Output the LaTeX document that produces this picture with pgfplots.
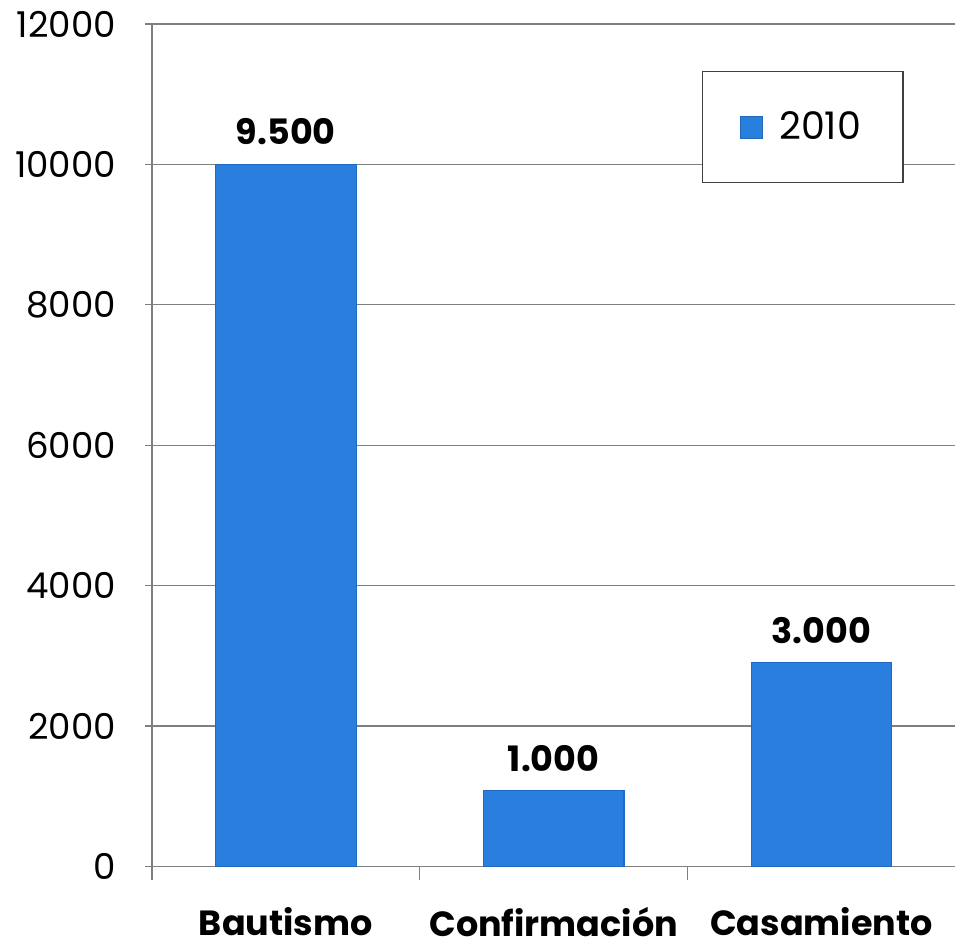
\documentclass[border=0pt]{standalone}
\usepackage{fontspec}
\setmainfont{Poppins}
\usepackage{pgfplots}
\pgfplotsset{compat=1.18}
\definecolor{barblue}{HTML}{2A7EDD}
\definecolor{baredge}{HTML}{1E69C2}
\definecolor{gridgray}{HTML}{7F7F7F}
\begin{document}
\begin{tikzpicture}
\begin{axis}[
  at={(0,0)}, anchor=south west,
  scale only axis,
  width=402pt, height=421.5pt,
  xmin=-0.5, xmax=2.5,
  ymin=0, ymax=12000,
  ytick={0,2000,4000,6000,8000,10000,12000},
  /pgf/number format/assume math mode=true,
  yticklabel style={font=\fontsize{17.8}{21}\selectfont, xshift=-11pt, /pgf/number format/.cd, fixed, 1000 sep={}},
  scaled y ticks=false,
  xtick={0,1,2},
  xticklabels={Bautismo,Confirmación,Casamiento},
  xticklabel style={font=\fontsize{17.5}{21}\selectfont\bfseries, yshift=-10pt},
  major tick length=7pt,
  tick align=outside,
  x tick style={draw=none},
  y tick style={draw=gridgray, line width=0.6pt},
  extra x ticks={-0.5,0.5,1.5},
  extra x tick labels={},
  extra x tick style={x tick style={draw=gridgray, line width=0.6pt}, major tick length=7pt},
  axis x line=bottom, axis y line=left,
  axis line style={-, draw=gridgray, line width=0.6pt},
  ymajorgrids,
  grid style={draw=gridgray, line width=0.6pt},
  clip=false,
  ybar, bar width=0.525,
  bar shift=0pt,
  nodes near coords,
  point meta=explicit symbolic,
  every node near coord/.append style={font=\fontsize{17.5}{21}\selectfont\bfseries, yshift=6pt},
  legend style={draw=black!75, line width=0.6pt, at={(0.684,0.944)}, anchor=north west,
    inner xsep=19pt, inner ysep=18pt, font=\fontsize{19}{22}\selectfont,
    /tikz/every odd column/.append style={column sep=6pt}},
  legend image code/.code={\fill[barblue, draw=baredge] (0pt,-5.5pt) rectangle (11pt,5.5pt);},
]
\addplot[fill=barblue, draw=baredge, line width=0.6pt] coordinates {
  (0,10000) [9.500]
  (1,1080) [1.000]
  (2,2900) [3.000]
};
\addlegendentry{2010}
\end{axis}
\path[use as bounding box] (-76pt,-41pt) rectangle (402pt,433.5pt);
\end{tikzpicture}
\end{document}
